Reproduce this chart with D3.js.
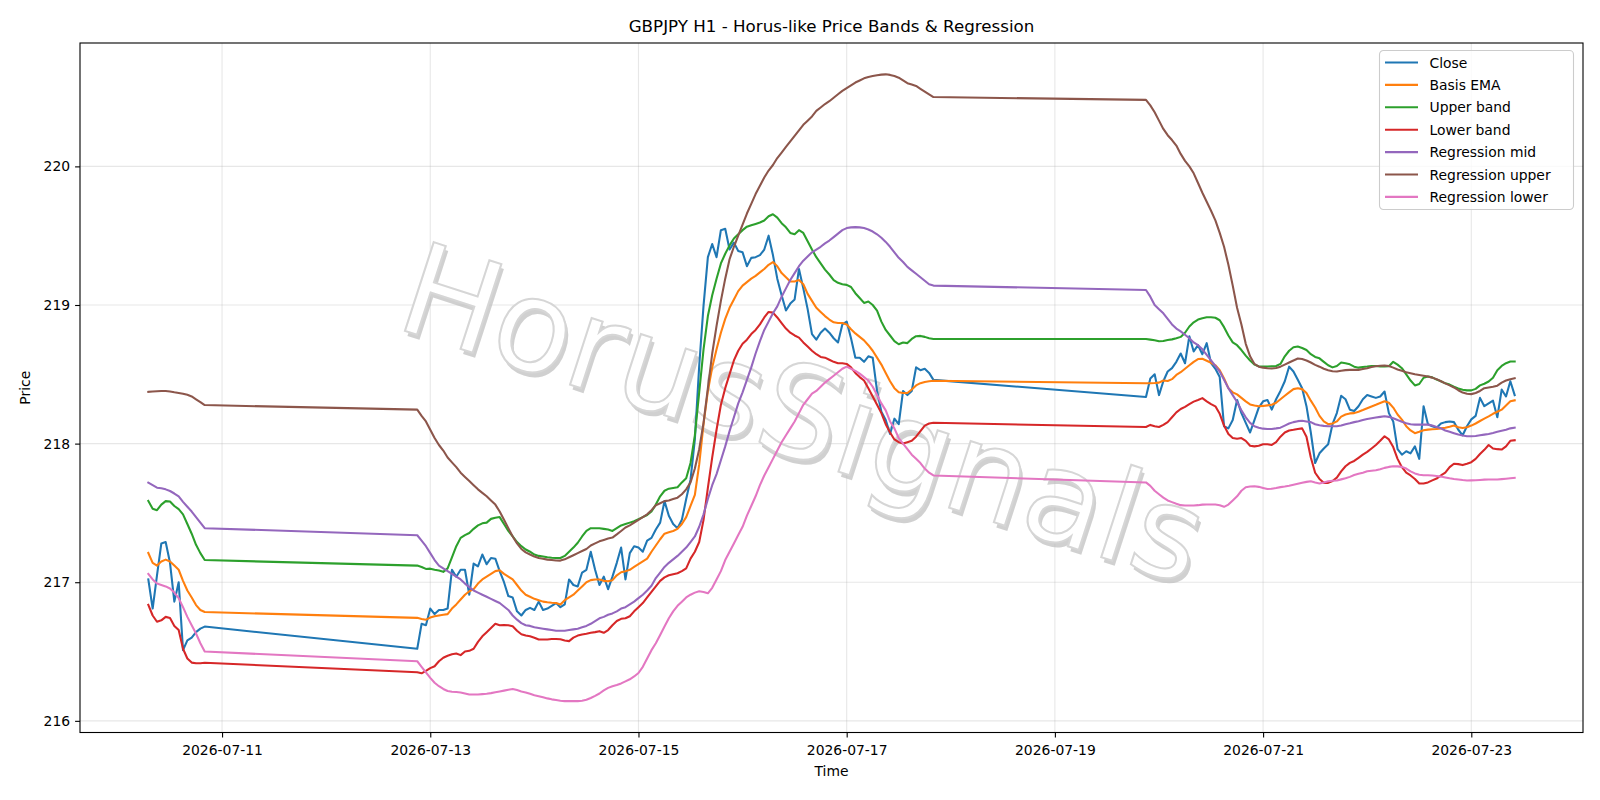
<!DOCTYPE html>
<html>
<head>
<meta charset="utf-8">
<script src="https://cdn.jsdelivr.net/npm/d3@7"></script>
<style>
  body { margin: 0; background: #fff; }
  svg { display: block; }
  text { font-family: "DejaVu Sans", sans-serif; fill: #000; }
</style>
</head>
<body>
<svg id="chart" width="1600" height="800"></svg>
<script>
// trading sessions: first hourly bar and number of bars (weekends are skipped)
const SESSIONS = [
  ['2026-07-10T07:00:00Z', 14],
  ['2026-07-12T21:00:00Z', 120],
  ['2026-07-19T21:00:00Z', 86],
];

const closeVals = [
  217.02,216.81,217.05,217.28,217.29,217.14,216.86,217.00,216.51,216.58,216.60,216.64,216.665,216.68,
  216.52,216.70,216.69,216.81,216.77,216.80,216.80,216.81,217.09,217.04,
  217.09,217.09,216.91,217.135,217.115,217.20,217.13,217.175,217.17,217.08,
  217.00,216.90,216.89,216.79,216.76,216.80,216.815,216.80,216.86,216.80,
  216.81,216.83,216.85,216.82,216.84,217.02,216.98,216.97,217.07,217.09,
  217.22,217.09,216.98,217.04,216.95,217.04,217.14,217.25,217.02,217.21,
  217.26,217.25,217.22,217.30,217.32,217.38,217.43,217.585,217.48,217.42,
  217.39,217.45,217.60,217.74,218.03,218.56,218.995,219.345,219.44,219.345,
  219.54,219.55,219.40,219.45,219.39,219.38,219.28,219.34,219.345,219.36,
  219.40,219.50,219.36,219.19,219.07,218.96,219.01,219.04,219.26,219.12,
  218.97,218.79,218.75,218.80,218.83,218.80,218.76,218.73,218.86,218.88,
  218.76,218.62,218.62,218.59,218.63,218.62,218.38,218.23,218.17,218.07,
  218.18,218.14,218.38,218.35,218.38,218.55,218.53,218.54,218.51,218.46,
  218.336,218.47,218.50,218.35,218.45,218.52,218.545,218.59,218.65,218.58,
  218.775,218.665,218.71,218.645,218.725,218.58,218.54,218.48,218.125,218.11,
  218.17,218.315,218.22,218.15,218.08,218.17,218.26,218.305,218.315,218.245,
  218.32,218.38,218.45,218.555,218.52,218.46,218.40,218.27,218.08,217.86,
  217.93,217.965,217.995,218.14,218.22,218.345,218.32,218.245,218.235,218.27,
  218.32,218.35,218.34,218.33,218.34,218.376,218.22,218.16,217.96,217.92,
  217.945,217.93,217.98,217.89,218.27,218.14,218.125,218.115,218.145,218.155,
  218.16,218.155,218.10,218.06,218.125,218.175,218.20,218.33,218.27,218.29,
  218.31,218.19,218.39,218.34,218.45,218.35,
];

const basisEma = [
  217.211,217.14,217.12,217.15,217.163,217.15,217.12,217.09,217.01,216.94,216.89,216.835,216.80,216.785,
  216.743,216.735,216.73,216.745,216.755,216.76,216.765,216.77,216.81,216.84,
  216.875,216.91,216.935,216.95,216.99,217.02,217.04,217.06,217.08,217.087,
  217.06,217.04,217.02,216.98,216.94,216.91,216.895,216.88,216.87,216.86,
  216.855,216.852,216.85,216.84,216.87,216.89,216.91,216.94,216.97,217.00,
  217.015,217.02,217.02,217.01,217.007,217.015,217.05,217.072,217.08,217.09,
  217.11,217.13,217.15,217.17,217.22,217.265,217.31,217.35,217.36,217.37,
  217.385,217.42,217.47,217.55,217.63,217.85,218.14,218.38,218.55,218.68,
  218.80,218.90,218.98,219.04,219.10,219.14,219.165,219.19,219.21,219.235,
  219.26,219.29,219.31,219.28,219.23,219.20,219.17,219.17,219.18,219.15,
  219.08,219.03,218.98,218.95,218.92,218.895,218.875,218.87,218.87,218.86,
  218.825,218.795,218.77,218.745,218.71,218.67,218.62,218.57,218.51,218.45,
  218.40,218.37,218.365,218.365,218.39,218.42,218.436,218.445,218.45,218.453,
  218.436,218.436,218.437,218.44,218.455,218.452,218.465,218.495,218.515,218.54,
  218.565,218.59,218.61,218.612,218.598,218.583,218.565,218.53,218.47,218.40,
  218.37,218.355,218.33,218.305,218.283,218.275,218.27,218.272,218.276,218.28,
  218.295,218.32,218.345,218.37,218.393,218.40,218.393,218.365,218.31,218.26,
  218.20,218.16,218.14,218.145,218.16,218.195,218.21,218.218,218.22,218.23,
  218.242,218.255,218.268,218.28,218.293,218.305,218.295,218.26,218.21,218.173,
  218.125,218.095,218.075,218.085,218.097,218.101,218.103,218.105,218.11,218.115,
  218.122,218.13,218.118,218.113,218.118,218.13,218.145,218.163,218.18,218.197,
  218.215,218.23,218.245,218.275,218.305,218.312,
];

const upperBand = [
  217.586,217.53,217.52,217.56,217.585,217.582,217.55,217.527,217.49,217.42,217.35,217.27,217.21,217.16,
  217.12,217.11,217.096,217.098,217.09,217.084,217.075,217.10,217.18,217.26,
  217.32,217.34,217.355,217.385,217.41,217.425,217.43,217.457,217.465,217.47,
  217.42,217.37,217.33,217.29,217.26,217.236,217.22,217.20,217.19,217.185,
  217.18,217.177,217.175,217.175,217.19,217.22,217.25,217.285,217.33,217.37,
  217.39,217.39,217.39,217.385,217.38,217.37,217.39,217.41,217.42,217.43,
  217.44,217.455,217.47,217.485,217.51,217.56,217.62,217.66,217.675,217.68,
  217.685,217.72,217.75,217.86,218.06,218.37,218.68,218.92,219.07,219.19,
  219.30,219.37,219.43,219.48,219.51,219.54,219.565,219.575,219.585,219.595,
  219.61,219.64,219.655,219.63,219.59,219.56,219.52,219.51,219.54,219.52,
  219.46,219.40,219.345,219.30,219.255,219.22,219.18,219.16,219.15,219.145,
  219.13,219.085,219.05,219.015,219.025,219.00,218.96,218.88,218.82,218.78,
  218.74,218.717,218.73,218.725,218.755,218.775,218.777,218.77,218.76,218.755,
  218.755,218.75,218.745,218.738,218.74,218.748,218.752,218.76,218.77,218.80,
  218.845,218.875,218.895,218.905,218.912,218.912,218.908,218.89,218.84,218.78,
  218.73,218.71,218.675,218.635,218.60,218.57,218.558,218.556,218.556,218.558,
  218.56,218.575,218.63,218.67,218.695,218.70,218.69,218.675,218.645,218.625,
  218.615,218.59,218.565,218.55,218.56,218.585,218.58,218.572,218.555,218.548,
  218.553,218.556,218.56,218.56,218.556,218.556,218.558,218.59,218.57,218.544,
  218.50,218.455,218.42,218.43,218.475,218.484,218.478,218.462,218.45,218.435,
  218.426,218.41,218.398,218.388,218.384,218.384,218.395,218.42,218.432,218.448,
  218.475,218.53,218.56,218.58,218.592,218.592,
];

const lowerBand = [
  216.837,216.76,216.715,216.725,216.75,216.742,216.685,216.655,216.52,216.45,216.42,216.415,216.416,216.419,
  216.351,216.343,216.36,216.38,216.394,216.43,216.455,216.47,216.48,216.486,
  216.474,216.50,216.505,216.52,216.57,216.61,216.64,216.67,216.70,216.69,
  216.692,216.69,216.683,216.65,216.625,216.615,216.61,216.60,216.587,216.587,
  216.587,216.59,216.59,216.588,216.58,216.575,216.60,216.615,216.623,216.628,
  216.635,216.64,216.647,216.635,216.655,216.69,216.72,216.736,216.74,216.755,
  216.79,216.82,216.85,216.89,216.93,216.97,217.01,217.035,217.05,217.058,
  217.065,217.08,217.10,217.17,217.22,217.29,217.45,217.68,217.90,218.10,
  218.28,218.40,218.50,218.60,218.67,218.72,218.75,218.79,218.82,218.86,
  218.91,218.95,218.945,218.91,218.87,218.83,218.80,218.78,218.765,218.73,
  218.70,218.67,218.645,218.625,218.62,218.605,218.59,218.58,218.58,218.575,
  218.55,218.51,218.48,218.455,218.40,218.34,218.28,218.22,218.14,218.08,
  218.03,218.01,218.00,218.01,218.02,218.05,218.09,218.13,218.145,218.15,
  218.12,218.135,218.125,218.12,218.135,218.155,218.19,218.225,218.25,218.265,
  218.285,218.303,218.315,218.328,218.305,218.285,218.269,218.215,218.13,218.07,
  218.04,218.035,218.04,218.02,217.985,217.98,217.985,217.995,217.995,217.99,
  218.01,218.05,218.08,218.095,218.10,218.106,218.11,218.05,217.90,217.79,
  217.745,217.717,217.717,217.73,217.755,217.80,217.837,217.861,217.875,217.897,
  217.92,217.94,217.965,217.99,218.02,218.053,218.03,217.975,217.89,217.83,
  217.79,217.77,217.745,217.712,217.712,217.72,217.735,217.748,217.77,217.79,
  217.83,217.855,217.852,217.845,217.855,217.866,217.89,217.925,217.955,217.99,
  217.965,217.96,217.957,217.98,218.02,218.024,
];

const regMid = [
  217.718,217.70,217.682,217.678,217.67,217.658,217.64,217.62,217.58,217.545,217.51,217.47,217.43,217.39,
  217.339,217.30,217.26,217.21,217.16,217.12,217.10,217.08,217.06,217.04,
  217.02,216.99,216.965,216.94,216.925,216.91,216.895,216.88,216.865,216.85,
  216.825,216.80,216.76,216.73,216.705,216.69,216.685,216.675,216.67,216.665,
  216.66,216.655,216.65,216.65,216.65,216.655,216.66,216.665,216.675,216.685,
  216.70,216.72,216.74,216.75,216.765,216.775,216.79,216.81,216.82,216.84,
  216.86,216.885,216.91,216.94,216.975,217.03,217.07,217.11,217.14,217.165,
  217.19,217.22,217.25,217.29,217.33,217.40,217.49,217.60,217.70,217.78,
  217.88,217.98,218.09,218.19,218.29,218.37,218.46,218.55,218.65,218.74,
  218.82,218.88,218.94,218.99,219.06,219.12,219.18,219.23,219.28,219.32,
  219.35,219.38,219.40,219.42,219.445,219.465,219.49,219.515,219.54,219.555,
  219.56,219.562,219.56,219.555,219.545,219.53,219.51,219.485,219.455,219.42,
  219.38,219.34,219.31,219.275,219.25,219.225,219.20,219.175,219.15,219.14,
  219.108,219.06,219.00,218.97,218.94,218.90,218.86,218.83,218.81,218.785,
  218.76,218.73,218.71,218.68,218.64,218.60,218.56,218.52,218.46,218.40,
  218.35,218.30,218.24,218.19,218.15,218.125,218.115,218.108,218.106,218.106,
  218.11,218.115,218.13,218.145,218.155,218.162,218.165,218.16,218.155,218.14,
  218.132,218.128,218.125,218.125,218.125,218.13,218.14,218.147,218.155,218.162,
  218.17,218.177,218.183,218.188,218.193,218.197,218.193,218.183,218.17,218.158,
  218.147,218.14,218.137,218.137,218.137,218.137,218.13,218.12,218.11,218.095,
  218.085,218.075,218.065,218.058,218.053,218.053,218.055,218.06,218.065,218.07,
  218.077,218.085,218.093,218.10,218.11,218.115,
];

const regUpper = [
  218.373,218.376,218.378,218.38,218.38,218.376,218.37,218.365,218.36,218.352,218.34,218.32,218.30,218.278,
  218.245,218.20,218.16,218.10,218.04,217.99,217.95,217.90,217.865,217.83,
  217.79,217.76,217.73,217.70,217.67,217.645,217.62,217.59,217.56,217.51,
  217.45,217.39,217.33,217.28,217.24,217.215,217.20,217.185,217.175,217.17,
  217.163,217.16,217.157,217.156,217.165,217.18,217.195,217.21,217.225,217.24,
  217.265,217.28,217.295,217.305,217.315,217.322,217.345,217.37,217.395,217.41,
  217.43,217.45,217.47,217.49,217.52,217.555,217.57,217.585,217.59,217.60,
  217.61,217.635,217.67,217.72,217.82,217.96,218.15,218.40,218.65,218.85,
  219.03,219.19,219.33,219.42,219.50,219.58,219.66,219.73,219.80,219.86,
  219.92,219.97,220.01,220.06,220.10,220.14,220.18,220.22,220.26,220.30,
  220.33,220.36,220.40,220.425,220.45,220.47,220.495,220.52,220.545,220.565,
  220.585,220.605,220.62,220.635,220.645,220.652,220.658,220.662,220.664,220.66,
  220.652,220.64,220.62,220.60,220.59,220.58,220.56,220.54,220.52,220.50,
  220.48,220.44,220.39,220.33,220.27,220.225,220.19,220.15,220.09,220.04,
  220.00,219.95,219.88,219.81,219.745,219.68,219.61,219.52,219.42,219.29,
  219.14,218.98,218.86,218.72,218.63,218.575,218.555,218.548,218.544,218.542,
  218.545,218.555,218.57,218.585,218.60,218.614,218.61,218.60,218.585,218.568,
  218.555,218.54,218.53,218.522,218.52,218.526,218.53,218.532,218.532,218.532,
  218.538,218.544,218.552,218.558,218.562,218.563,218.56,218.548,218.535,218.525,
  218.515,218.508,218.50,218.495,218.49,218.484,218.476,218.465,218.45,218.435,
  218.42,218.405,218.385,218.368,218.36,218.357,218.365,218.38,218.40,218.405,
  218.41,218.418,218.44,218.455,218.465,218.472,
];

const regLower = [
  217.06,217.02,216.99,216.98,216.97,216.955,216.925,216.885,216.82,216.75,216.69,216.63,216.56,216.50,
  216.43,216.39,216.35,216.31,216.275,216.25,216.23,216.215,216.21,216.208,
  216.205,216.198,216.19,216.19,216.19,216.193,216.196,216.20,216.206,216.212,
  216.218,216.224,216.23,216.222,216.212,216.205,216.195,216.185,216.178,216.17,
  216.162,216.155,216.15,216.145,216.142,216.142,216.142,216.142,216.145,216.152,
  216.165,216.18,216.197,216.22,216.238,216.25,216.258,216.27,216.285,216.30,
  216.32,216.345,216.39,216.45,216.51,216.56,216.62,216.68,216.74,216.79,
  216.83,216.86,216.89,216.91,216.925,216.935,216.93,216.92,216.96,217.02,
  217.08,217.16,217.22,217.28,217.34,217.40,217.48,217.55,217.62,217.70,
  217.77,217.83,217.89,217.95,218.01,218.06,218.11,218.16,218.22,218.28,
  218.32,218.36,218.38,218.41,218.44,218.465,218.49,218.515,218.54,218.555,
  218.54,218.525,218.505,218.48,218.455,218.41,218.35,218.29,218.24,218.16,
  218.11,218.04,218.00,217.96,217.92,217.89,217.86,217.82,217.79,217.77,
  217.72,217.695,217.66,217.635,217.61,217.59,217.578,217.566,217.556,217.554,
  217.554,217.554,217.556,217.56,217.561,217.561,217.561,217.556,217.544,217.56,
  217.59,217.62,217.66,217.685,217.69,217.693,217.688,217.68,217.672,217.675,
  217.68,217.686,217.69,217.696,217.703,217.71,217.717,217.724,217.729,217.72,
  217.713,217.72,217.729,217.732,217.734,217.742,217.75,217.76,217.773,217.782,
  217.79,217.80,217.804,217.808,217.815,217.825,217.832,217.837,217.836,217.832,
  217.82,217.80,217.785,217.775,217.772,217.772,217.77,217.766,217.762,217.756,
  217.75,217.745,217.741,217.737,217.734,217.735,217.736,217.738,217.74,217.741,
  217.741,217.741,217.744,217.747,217.75,217.753,
];

const SERIES = [
  { name: 'Close', values: closeVals, color: '#1f77b4' },
  { name: 'Basis EMA', values: basisEma, color: '#ff7f0e' },
  { name: 'Upper band', values: upperBand, color: '#2ca02c' },
  { name: 'Lower band', values: lowerBand, color: '#d62728' },
  { name: 'Regression mid', values: regMid, color: '#9467bd' },
  { name: 'Regression upper', values: regUpper, color: '#8c564b' },
  { name: 'Regression lower', values: regLower, color: '#e377c2' },
];

const X_TICKS = ['2026-07-11', '2026-07-13', '2026-07-15', '2026-07-17', '2026-07-19', '2026-07-21', '2026-07-23'];
const Y_TICKS = [216, 217, 218, 219, 220];

const W = 1600, H = 800;
const margin = { top: 43, right: 17, bottom: 67.5, left: 80 };
const innerW = W - margin.left - margin.right;
const innerH = H - margin.top - margin.bottom;

const times = SESSIONS.flatMap(([start, n]) =>
  d3.range(n).map(i => new Date(Date.parse(start) + i * 3600e3)));

const svg = d3.select('#chart');

// matplotlib-style 5% padding on both axes
const [t0, t1] = d3.extent(times);
const tPad = (t1 - t0) * 0.05;
const x = d3.scaleUtc()
  .domain([new Date(+t0 - tPad), new Date(+t1 + tPad)])
  .range([0, innerW]);

const allVals = SERIES.flatMap(s => s.values);
const [v0, v1] = d3.extent(allVals);
const vPad = (v1 - v0) * 0.05;
const y = d3.scaleLinear()
  .domain([v0 - vPad, v1 + vPad])
  .range([innerH, 0]);

const g = svg.append('g').attr('transform', `translate(${margin.left},${margin.top})`);

g.append('defs').append('clipPath').attr('id', 'plot-clip')
  .append('rect').attr('width', innerW).attr('height', innerH);

// grid
const xTickDates = X_TICKS.map(d => new Date(d + 'T00:00:00Z'));
g.append('g')
  .selectAll('line.vgrid').data(xTickDates).join('line')
  .attr('x1', d => x(d)).attr('x2', d => x(d))
  .attr('y1', 0).attr('y2', innerH)
  .attr('stroke', '#b0b0b0').attr('stroke-opacity', 0.3).attr('stroke-width', 1.1);
g.append('g')
  .selectAll('line.hgrid').data(Y_TICKS).join('line')
  .attr('x1', 0).attr('x2', innerW)
  .attr('y1', d => y(d)).attr('y2', d => y(d))
  .attr('stroke', '#b0b0b0').attr('stroke-opacity', 0.3).attr('stroke-width', 1.1);

// watermark
const wm = g.append('g')
  .attr('transform', `translate(${790 - margin.left},${456 - margin.top}) rotate(18)`)
  .attr('font-size', 128)
  .attr('text-anchor', 'middle');
wm.append('text')
  .attr('x', 4).attr('y', 4)
  .style('fill', '#bdbdbd')
  .attr('opacity', 0.7)
  .text('HorusSignals');
wm.append('text')
  .style('fill', '#ffffff')
  .attr('stroke', '#d6d6d6')
  .attr('stroke-width', 2)
  .text('HorusSignals');

// series lines
const line = d3.line()
  .x((d, i) => x(times[i]))
  .y(d => y(d));

g.append('g').attr('clip-path', 'url(#plot-clip)')
  .selectAll('path').data(SERIES).join('path')
  .attr('d', d => line(d.values))
  .attr('fill', 'none')
  .attr('stroke', d => d.color)
  .attr('stroke-width', 2.08)
  .attr('stroke-linejoin', 'round')
  .attr('stroke-linecap', 'square');

// axes
g.append('g')
  .attr('transform', `translate(0,${innerH})`)
  .call(d3.axisBottom(x).tickValues(xTickDates).tickFormat(d3.utcFormat('%Y-%m-%d')).tickSize(4.9).tickPadding(8))
  .call(a => a.select('.domain').remove())
  .call(a => a.selectAll('line').attr('stroke', '#000').attr('stroke-width', 1.1))
  .call(a => a.selectAll('text').attr('font-size', 13.9).attr('font-family', '"DejaVu Sans", sans-serif').style('fill', '#000'));

g.append('g')
  .call(d3.axisLeft(y).tickValues(Y_TICKS).tickFormat(d3.format('d')).tickSize(4.9).tickPadding(5))
  .call(a => a.select('.domain').remove())
  .call(a => a.selectAll('line').attr('stroke', '#000').attr('stroke-width', 1.1))
  .call(a => a.selectAll('text').attr('font-size', 13.9).attr('font-family', '"DejaVu Sans", sans-serif').style('fill', '#000'));

g.append('rect')
  .attr('width', innerW).attr('height', innerH)
  .attr('fill', 'none').attr('stroke', '#000').attr('stroke-width', 1.1);

// labels
svg.append('text')
  .attr('x', margin.left + innerW / 2).attr('y', 32)
  .attr('text-anchor', 'middle').attr('font-size', 16.7)
  .text('GBPJPY H1 - Horus-like Price Bands & Regression');

svg.append('text')
  .attr('x', margin.left + innerW / 2).attr('y', 776)
  .attr('text-anchor', 'middle').attr('font-size', 13.9)
  .text('Time');

svg.append('text')
  .attr('transform', `translate(30,${margin.top + innerH / 2}) rotate(-90)`)
  .attr('text-anchor', 'middle').attr('font-size', 13.9)
  .text('Price');

// legend
const legend = svg.append('g').attr('transform', 'translate(1379.5,50.5)');
legend.append('rect')
  .attr('width', 194).attr('height', 159).attr('rx', 4)
  .attr('fill', '#fff').attr('fill-opacity', 0.8)
  .attr('stroke', '#cccccc').attr('stroke-width', 1.1);
SERIES.forEach((s, i) => {
  const row = legend.append('g').attr('transform', `translate(0,${12 + i * 22.4})`);
  row.append('line')
    .attr('x1', 5.5).attr('x2', 38.5)
    .attr('stroke', s.color).attr('stroke-width', 2.08);
  row.append('text')
    .attr('x', 50).attr('y', 5)
    .attr('font-size', 13.9)
    .text(s.name);
});
</script>
</body>
</html>
